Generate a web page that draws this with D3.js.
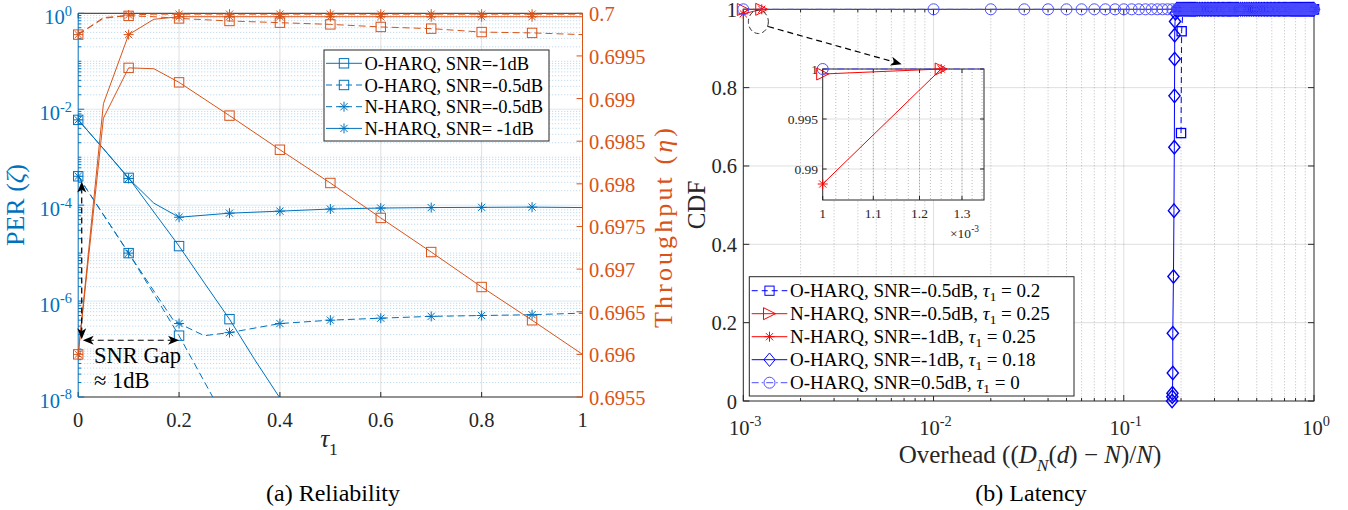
<!DOCTYPE html>
<html><head><meta charset="utf-8">
<script src="https://cdn.jsdelivr.net/npm/d3@7"></script>
<style>body{margin:0;background:#fff}svg{display:block}</style>
</head><body><svg id="c" width="1348" height="510" font-family="Liberation Serif, Times New Roman, serif"></svg>
<script>
// ---------------- DATA ----------------
// (a) Reliability
const tauTicks = [0, 0.2, 0.4, 0.6, 0.8, 1];
const perTickExps = [0, -2, -4, -6, -8];
const thrTicks = [0.7, 0.6995, 0.699, 0.6985, 0.698, 0.6975, 0.697, 0.6965, 0.696, 0.6955];
const markerTau = [0, 0.1, 0.2, 0.3, 0.4, 0.5, 0.6, 0.7, 0.8, 0.9];

const tauOH1 = [0, 0.05, 0.1, 0.15, 0.2, 0.25, 0.3, 0.35, 0.4];
const perOH1 = [6e-3, 1.5e-3, 3.7e-4, 7.2e-5, 1.4e-5, 2.4e-6, 4.2e-7, 6.0e-8, 9.5e-9];
const tauOH05 = [0, 0.05, 0.1, 0.15, 0.2, 0.25, 0.3];
const perOH05 = [4e-4, 6.3e-5, 1e-5, 1.4e-6, 1.9e-7, 2.1e-8, 2.3e-9];
const tauNH05 = [0, 0.05, 0.1, 0.19, 0.2, 0.25, 0.3, 0.4, 0.5, 0.6, 0.7, 0.8, 0.9, 1];
const perNH05 = [4e-4, 6.3e-5, 1e-5, 3.8e-7, 3.4e-7, 1.9e-7, 2.2e-7, 3.4e-7, 4.0e-7, 4.4e-7, 4.8e-7, 5.0e-7, 5.2e-7, 5.6e-7];
const tauNH1 = [0, 0.05, 0.1, 0.15, 0.2, 0.3, 0.4, 0.5, 0.6, 0.7, 0.8, 0.9, 1];
const perNH1 = [6e-3, 1.5e-3, 3.6e-4, 1.1e-4, 5.6e-5, 6.8e-5, 7.5e-5, 8.3e-5, 8.7e-5, 8.9e-5, 9.0e-5, 9.1e-5, 8.9e-5];

const tauThr = [0, 0.05, 0.1, 0.15, 0.2, 0.3, 0.4, 0.5, 0.6, 0.7, 0.8, 0.9, 1];
const thrOH1 = [0.69600, 0.69877, 0.69936, 0.69935, 0.69919, 0.69880, 0.69840, 0.69801, 0.69760, 0.69720, 0.69679, 0.69640, 0.69600];
const thrOH05 = [0.69975, 0.69995, 0.69997, 0.69996, 0.69994, 0.69991, 0.69989, 0.69987, 0.69984, 0.69982, 0.69978, 0.69977, 0.69975];
const thrNH05 = [0.69975, 0.69994, 0.69998, 0.69999, 0.69999, 0.69999, 0.69999, 0.69999, 0.69999, 0.69999, 0.69999, 0.69999, 0.69999];
const thrNH1 = [0.69600, 0.69894, 0.69975, 0.69993, 0.69996, 0.69996, 0.69996, 0.69996, 0.69996, 0.69996, 0.69996, 0.69996, 0.69996];

const legendA = ["O-HARQ, SNR=-1dB", "O-HARQ, SNR=-0.5dB", "N-HARQ, SNR=-0.5dB", "N-HARQ, SNR= -1dB"];

// (b) Latency
const ovhTickExps = [-3, -2, -1, 0];
const cdfTicks = [0, 0.2, 0.4, 0.6, 0.8, 1];
const sqHeadX = [0.2, 0.2015, 0.205];
const sqHeadCdf = [0.684, 0.944, 1];
const triX = [1e-3, 1.25e-3];
const triCdf = [0.9995, 1];
const starX = [1e-3, 1.25e-3];
const starCdf = [0.9885, 1];
const dmHeadX = [0.1795, 0.1799, 0.1803, 0.181, 0.181, 0.1825, 0.1836, 0.1844, 0.1848, 0.1852, 0.1852, 0.186, 0.187];
const dmHeadCdf = [0, 0.011, 0.0197, 0.0715, 0.173, 0.318, 0.486, 0.648, 0.779, 0.873, 0.934, 0.969, 0.99];
const circHeadX = [0.001, 0.01, 0.02, 0.03, 0.04, 0.05, 0.06, 0.07, 0.08, 0.09, 0.1, 0.11, 0.12, 0.13, 0.14, 0.15, 0.16, 0.17, 0.18];
const tailX = [0.19,0.1925,0.195,0.1975,0.2,0.2025,0.205,0.2075,0.21,0.2125,0.215,0.2175,0.22,0.2225,0.225,0.2275,0.23,0.2325,0.235,0.2375,0.24,0.245,0.25,0.255,0.26,0.265,0.27,0.275,0.28,0.285,0.29,0.295,0.3,0.305,0.31,0.315,0.32,0.325,0.33,0.335,0.34,0.345,0.35,0.355,0.36,0.365,0.37,0.375,0.38,0.385,0.39,0.395,0.4,0.41,0.42,0.43,0.44,0.45,0.46,0.47,0.48,0.49,0.5,0.51,0.52,0.53,0.54,0.55,0.56,0.57,0.58,0.59,0.6,0.61,0.62,0.63,0.64,0.65,0.66,0.67,0.68,0.69,0.7,0.71,0.72,0.73,0.74,0.75,0.76,0.77,0.78,0.79,0.8,0.81,0.82,0.83,0.84,0.85,0.86,0.87,0.88,0.89,0.9,0.91,0.92,0.93,0.94,0.95,0.96,0.97,0.98,0.99,1];
const insetXTicks = [1.0e-3, 1.1e-3, 1.2e-3, 1.3e-3];
const insetXLabels = ["1", "1.1", "1.2", "1.3"];
const insetYTicks = [0.99, 0.995, 1];
const insetYLabels = ["0.99", "0.995", "1"];

// ---------------- DRAW ----------------
const FF = 'Liberation Serif, Times New Roman, serif';
const svg = d3.select('#c');
const BLUE = '#0072BD', ORANGE = '#D95319', AX = '#262626', RB = '#0000ff', RR = '#ff0000', CB = '#4d4dff';
svg.append('rect').attr('width', 1348).attr('height', 510).attr('fill', '#fff');

function rich(sel, parts, fs, subK) {
  let cur = 0;
  parts.forEach(p => {
    const t = sel.append('tspan').text(p.t);
    let sh = 0;
    if (p.sub) sh = fs * (subK || 0.3);
    if (p.sup) sh = -fs * 0.42;
    if (p.sub || p.sup) t.attr('font-size', fs * 0.7);
    if (p.i) t.attr('font-style', 'italic');
    if (sh !== cur) t.attr('dy', sh - cur);
    cur = sh;
  });
  return sel;
}
function txt(g, x, y, parts, fs, anchor, color, extra, subK) {
  const t = g.append('text').attr('x', x).attr('y', y).attr('font-size', fs).attr('font-family', FF)
    .attr('text-anchor', anchor || 'start').attr('fill', color || '#000');
  if (extra) t.attr('transform', extra);
  if (typeof parts === 'string') t.text(parts); else rich(t, parts, fs, subK);
  return t;
}
function marker(g, type, x, y, color, s, sw) {
  let el;
  if (type === 'square') el = g.append('rect').attr('x', x - s).attr('y', y - s).attr('width', 2 * s).attr('height', 2 * s);
  else if (type === 'circle') el = g.append('circle').attr('cx', x).attr('cy', y).attr('r', s);
  else if (type === 'star') { const d = s * 0.72; el = g.append('path').attr('d', `M${x - s},${y}H${x + s}M${x},${y - s}V${y + s}M${x - d},${y - d}L${x + d},${y + d}M${x - d},${y + d}L${x + d},${y - d}`); }
  else if (type === 'diamond') el = g.append('path').attr('d', `M${x},${y - s * 1.2}L${x + s},${y}L${x},${y + s * 1.2}L${x - s},${y}Z`);
  else if (type === 'triR') el = g.append('path').attr('d', `M${x + s},${y}L${x - s},${y - s}L${x - s},${y + s}Z`);
  el.attr('fill', 'none').attr('stroke', color).attr('stroke-width', sw || 1);
}
function arrowHead(g, tx, ty, ang, color) {
  const L = 11, Wd = 4.5, N = 8;
  const ux = Math.cos(ang), uy = Math.sin(ang), px = -uy, py = ux;
  const bx = tx - ux * L, by = ty - uy * L, nx = tx - ux * N, ny = ty - uy * N;
  g.append('path').attr('d', `M${tx},${ty}L${bx + px * Wd},${by + py * Wd}L${nx},${ny}L${bx - px * Wd},${by - py * Wd}Z`).attr('fill', color);
}
const minorLog = (e0, e1) => { const a = []; for (let e = e0; e < e1; e++) for (let k = 2; k <= 9; k++) a.push(k * Math.pow(10, e)); return a; };

// ====== Panel (a) ======
const LA = { x0: 78.2, x1: 582.5, y0: 13.3, y1: 397 };
const xL = d3.scaleLinear().domain([0, 1]).range([LA.x0, LA.x1]);
const yPER = d3.scaleLog().domain([1e-8, 1]).range([LA.y1, LA.y0]);
const yTHR = d3.scaleLinear().domain([0.6955, 0.7]).range([LA.y1, LA.y0]);
const gA = svg.append('g');
svg.append('clipPath').attr('id', 'clipA').append('rect').attr('x', LA.x0).attr('y', LA.y0).attr('width', LA.x1 - LA.x0).attr('height', LA.y1 - LA.y0);

const gridA = gA.append('g');
tauTicks.slice(1, -1).forEach(t => gridA.append('line').attr('x1', xL(t)).attr('x2', xL(t)).attr('y1', LA.y0).attr('y2', LA.y1).attr('stroke', AX).attr('stroke-opacity', 0.15));
const perMinor = minorLog(-8, 0).concat([1e-1, 1e-3, 1e-5, 1e-7]);
perMinor.forEach(v => gridA.append('line').attr('x1', LA.x0).attr('x2', LA.x1).attr('y1', yPER(v)).attr('y2', yPER(v)).attr('stroke', BLUE).attr('stroke-opacity', 0.3).attr('stroke-dasharray', '1,2'));
perTickExps.slice(1, -1).forEach(e => gridA.append('line').attr('x1', LA.x0).attr('x2', LA.x1).attr('y1', yPER(Math.pow(10, e))).attr('y2', yPER(Math.pow(10, e))).attr('stroke', BLUE).attr('stroke-opacity', 0.15));

gA.append('line').attr('x1', LA.x0).attr('x2', LA.x1).attr('y1', LA.y1).attr('y2', LA.y1).attr('stroke', AX);
gA.append('line').attr('x1', LA.x0).attr('x2', LA.x1).attr('y1', LA.y0).attr('y2', LA.y0).attr('stroke', AX);
tauTicks.forEach(t => {
  gA.append('line').attr('x1', xL(t)).attr('x2', xL(t)).attr('y1', LA.y1).attr('y2', LA.y1 - 5).attr('stroke', AX);
  gA.append('line').attr('x1', xL(t)).attr('x2', xL(t)).attr('y1', LA.y0).attr('y2', LA.y0 + 5).attr('stroke', AX);
  txt(gA, xL(t), 427, String(t), 20.5, 'middle', AX);
});
gA.append('line').attr('x1', LA.x0).attr('x2', LA.x0).attr('y1', LA.y0).attr('y2', LA.y1).attr('stroke', BLUE);
gA.append('line').attr('x1', LA.x1).attr('x2', LA.x1).attr('y1', LA.y0).attr('y2', LA.y1).attr('stroke', ORANGE);
perMinor.forEach(v => gA.append('line').attr('x1', LA.x0).attr('x2', LA.x0 + 3).attr('y1', yPER(v)).attr('y2', yPER(v)).attr('stroke', BLUE));
perTickExps.forEach(e => {
  const y = yPER(Math.pow(10, e));
  gA.append('line').attr('x1', LA.x0).attr('x2', LA.x0 + 6).attr('y1', y).attr('y2', y).attr('stroke', BLUE);
  txt(gA, 72, y + 11, [{ t: '10' }, { t: String(e), sup: true }], 20.5, 'end', BLUE);
});
thrTicks.forEach(v => {
  const y = yTHR(v);
  gA.append('line').attr('x1', LA.x1 - 6).attr('x2', LA.x1).attr('y1', y).attr('y2', y).attr('stroke', ORANGE);
  txt(gA, 589, y + 8, String(v), 20.5, 'start', ORANGE);
});
txt(gA, 329, 447, [{ t: 'τ', i: true }, { t: '1', sub: true }], 25, 'middle', AX);
txt(gA, 0, 0, [{ t: 'PER (' }, { t: 'ζ', i: true }, { t: ')' }], 26, 'middle', BLUE, 'translate(24,205) rotate(-90)');
txt(gA, 0, 0, [{ t: 'Throughput (' }, { t: 'η', i: true }, { t: ')' }], 26, 'middle', ORANGE, 'translate(672,228) rotate(-90)')
  .attr('textLength', 200).attr('lengthAdjust', 'spacing');
txt(gA, 333, 501, '(a) Reliability', 24, 'middle', '#000');

const isMarkTau = t => markerTau.some(m => Math.abs(m - t) < 1e-9);
function drawSeriesA(tau, vals, yS, color, dash, mtype) {
  const pts = tau.map((t, i) => [xL(t), yS(vals[i])]);
  gA.append('path').attr('d', d3.line()(pts)).attr('fill', 'none').attr('stroke', color).attr('stroke-width', 1)
    .attr('stroke-dasharray', dash).attr('clip-path', 'url(#clipA)');
  tau.forEach((t, i) => {
    if (!isMarkTau(t)) return;
    const [x, y] = pts[i];
    if (y > LA.y1 + 0.5 || y < LA.y0 - 0.5) return;
    marker(gA, mtype, x, y, color, mtype === 'star' ? 5 : 4.7, 1);
  });
}
drawSeriesA(tauOH1, perOH1, yPER, BLUE, null, 'square');
drawSeriesA(tauOH05, perOH05, yPER, BLUE, '7,4', 'square');
drawSeriesA(tauNH05, perNH05, yPER, BLUE, '7,4', 'star');
drawSeriesA(tauNH1, perNH1, yPER, BLUE, null, 'star');
drawSeriesA(tauThr, thrOH1, yTHR, ORANGE, null, 'square');
drawSeriesA(tauThr, thrOH05, yTHR, ORANGE, '7,4', 'square');
drawSeriesA(tauThr, thrNH05, yTHR, ORANGE, '7,4', 'star');
drawSeriesA(tauThr, thrNH1, yTHR, ORANGE, null, 'star');

// SNR gap annotation
const ann = gA.append('g');
const axv = xL(0.007), ayTop = yPER(3.1e-4), ayBot = yPER(1.6e-7), axR = xL(0.2);
ann.append('line').attr('x1', axv).attr('x2', axv).attr('y1', ayTop + 6).attr('y2', ayBot - 6).attr('stroke', '#000').attr('stroke-width', 1.2).attr('stroke-dasharray', '6,4');
arrowHead(ann, axv, ayTop, -Math.PI / 2, '#000');
arrowHead(ann, axv, ayBot, Math.PI / 2, '#000');
ann.append('line').attr('x1', axv + 6).attr('x2', axR - 6).attr('y1', ayBot + 1).attr('y2', ayBot + 1).attr('stroke', '#000').attr('stroke-width', 1.2).attr('stroke-dasharray', '6,4');
arrowHead(ann, axv + 1, ayBot + 1, Math.PI, '#000');
arrowHead(ann, axR, ayBot + 1, 0, '#000');
txt(ann, 94, 363, 'SNR Gap', 22.5, 'start', '#000');
txt(ann, 94, 388, '≈ 1dB', 22.5, 'start', '#000');

// legend (a)
const lgA = gA.append('g');
lgA.append('rect').attr('x', 324).attr('y', 50).attr('width', 225).attr('height', 91).attr('fill', '#fff').attr('stroke', AX).attr('stroke-width', 1);
const lgStyles = [[null, 'square'], ['6,4', 'square'], ['6,4', 'star'], [null, 'star']];
legendA.forEach((s, i) => {
  const y = 63.3 + i * 21.7;
  lgA.append('line').attr('x1', 326).attr('x2', 362).attr('y1', y).attr('y2', y).attr('stroke', BLUE).attr('stroke-dasharray', lgStyles[i][0]);
  marker(lgA, lgStyles[i][1], 344, y, BLUE, lgStyles[i][1] === 'star' ? 5 : 4.7, 1);
  txt(lgA, 364.5, y + 6.5, s, 18.5, 'start', '#000');
});

// ====== Panel (b) ======
const RA = { x0: 743.3, x1: 1314, y0: 9.3, y1: 401 };
const xR = d3.scaleLog().domain([1e-3, 1]).range([RA.x0, RA.x1]);
const yR = d3.scaleLinear().domain([0, 1]).range([RA.y1, RA.y0]);
const gB = svg.append('g');
const ovhMinor = minorLog(-3, 0);
ovhMinor.forEach(v => gB.append('line').attr('x1', xR(v)).attr('x2', xR(v)).attr('y1', RA.y0).attr('y2', RA.y1).attr('stroke', AX).attr('stroke-opacity', 0.3).attr('stroke-dasharray', '1,2'));
[1e-2, 1e-1].forEach(v => gB.append('line').attr('x1', xR(v)).attr('x2', xR(v)).attr('y1', RA.y0).attr('y2', RA.y1).attr('stroke', AX).attr('stroke-opacity', 0.15));
cdfTicks.slice(1, -1).forEach(v => gB.append('line').attr('x1', RA.x0).attr('x2', RA.x1).attr('y1', yR(v)).attr('y2', yR(v)).attr('stroke', AX).attr('stroke-opacity', 0.15));
gB.append('rect').attr('x', RA.x0).attr('y', RA.y0).attr('width', RA.x1 - RA.x0).attr('height', RA.y1 - RA.y0).attr('fill', 'none').attr('stroke', AX);
ovhMinor.forEach(v => {
  gB.append('line').attr('x1', xR(v)).attr('x2', xR(v)).attr('y1', RA.y1).attr('y2', RA.y1 - 3).attr('stroke', AX);
  gB.append('line').attr('x1', xR(v)).attr('x2', xR(v)).attr('y1', RA.y0).attr('y2', RA.y0 + 3).attr('stroke', AX);
});
ovhTickExps.forEach(e => {
  const x = xR(Math.pow(10, e));
  gB.append('line').attr('x1', x).attr('x2', x).attr('y1', RA.y1).attr('y2', RA.y1 - 6).attr('stroke', AX);
  gB.append('line').attr('x1', x).attr('x2', x).attr('y1', RA.y0).attr('y2', RA.y0 + 6).attr('stroke', AX);
  txt(gB, x + 2, 435, [{ t: '10' }, { t: String(e), sup: true }], 20.5, 'middle', AX);
});
cdfTicks.forEach(v => {
  const y = yR(v);
  gB.append('line').attr('x1', RA.x0).attr('x2', RA.x0 + 6).attr('y1', y).attr('y2', y).attr('stroke', AX);
  gB.append('line').attr('x1', RA.x1 - 6).attr('x2', RA.x1).attr('y1', y).attr('y2', y).attr('stroke', AX);
  txt(gB, 737, y + 7.5, String(v), 20.5, 'end', AX);
});
txt(gB, 0, 0, 'CDF', 25, 'middle', AX, 'translate(705,205) rotate(-90)');
txt(gB, 1030, 463, [{ t: 'Overhead ((' }, { t: 'D', i: true }, { t: 'N', sub: true, i: true }, { t: '(' }, { t: 'd', i: true }, { t: ') − ' }, { t: 'N', i: true }, { t: ')/' }, { t: 'N', i: true }, { t: ')' }], 25, 'middle', AX);
txt(gB, 1031, 501, '(b) Latency', 24, 'middle', '#000');

function drawSeriesB(g, xs, ys, xS, yS, color, dash, mtype, ms, sw) {
  const pts = xs.map((x, i) => [xS(x), yS(ys[i])]);
  g.append('path').attr('d', d3.line()(pts)).attr('fill', 'none').attr('stroke', color).attr('stroke-width', 1).attr('stroke-dasharray', dash);
  pts.forEach(p => marker(g, mtype, p[0], p[1], color, ms, sw || 1));
}
const sqX = sqHeadX.concat(tailX.filter(x => x > 0.205));
const sqY = sqHeadCdf.concat(tailX.filter(x => x > 0.205).map(() => 1));
const dmX = dmHeadX.concat(tailX);
const dmY = dmHeadCdf.concat(tailX.map(() => 1));
const ciX = circHeadX.concat(tailX);
const ciY = ciX.map(() => 1);
const gS = gB.append('g');
drawSeriesB(gS, sqX, sqY, xR, yR, RB, '6,4', 'square', 4.6, 1.3);
drawSeriesB(gS, triX, triCdf, xR, yR, RR, null, 'triR', 6, 1);
drawSeriesB(gS, starX, starCdf, xR, yR, RR, null, 'star', 5, 1);
drawSeriesB(gS, dmX, dmY, xR, yR, RB, null, 'diamond', 5.6, 1.4);
drawSeriesB(gS, ciX, ciY, xR, yR, CB, '7,3,1.5,3', 'circle', 5.5, 1);

// zoom annotation
const gZ = gB.append('g');
gZ.append('ellipse').attr('cx', xR(1.2e-3)).attr('cy', yR(0.968)).attr('rx', 10).attr('ry', 11.7).attr('fill', 'none').attr('stroke', '#333').attr('stroke-dasharray', '5,3');
const a0 = [xR(1.35e-3), yR(0.956)], a1 = [xR(6.8e-3), yR(0.860)];
gZ.append('line').attr('x1', a0[0]).attr('y1', a0[1]).attr('x2', a1[0] - 8).attr('y2', a1[1] - 2.3).attr('stroke', '#000').attr('stroke-dasharray', '6,4').attr('stroke-width', 1.2);
arrowHead(gZ, a1[0], a1[1], Math.atan2(a1[1] - a0[1], a1[0] - a0[0]), '#000');

// inset
const IA = { x0: 822.7, x1: 984, y0: 69, y1: 200 };
const xI = d3.scaleLog().domain([1e-3, 1.355e-3]).range([IA.x0, IA.x1]);
const yI = d3.scaleLinear().domain([0.9869, 1]).range([IA.y1, IA.y0]);
const gI = gB.append('g');
gI.append('rect').attr('x', IA.x0).attr('y', IA.y0).attr('width', IA.x1 - IA.x0).attr('height', IA.y1 - IA.y0).attr('fill', '#fff');
d3.range(1.025e-3, 1.355e-3, 0.025e-3).forEach(v => gI.append('line').attr('x1', xI(v)).attr('x2', xI(v)).attr('y1', IA.y0).attr('y2', IA.y1).attr('stroke', AX).attr('stroke-opacity', 0.3).attr('stroke-dasharray', '1,2'));
insetXTicks.slice(1).forEach(v => gI.append('line').attr('x1', xI(v)).attr('x2', xI(v)).attr('y1', IA.y0).attr('y2', IA.y1).attr('stroke', AX).attr('stroke-opacity', 0.15));
insetYTicks.slice(0, -1).forEach(v => gI.append('line').attr('x1', IA.x0).attr('x2', IA.x1).attr('y1', yI(v)).attr('y2', yI(v)).attr('stroke', AX).attr('stroke-opacity', 0.15));
gI.append('rect').attr('x', IA.x0).attr('y', IA.y0).attr('width', IA.x1 - IA.x0).attr('height', IA.y1 - IA.y0).attr('fill', 'none').attr('stroke', AX);
insetXTicks.forEach((v, i) => {
  const x = xI(v);
  gI.append('line').attr('x1', x).attr('x2', x).attr('y1', IA.y1).attr('y2', IA.y1 - 4).attr('stroke', AX);
  gI.append('line').attr('x1', x).attr('x2', x).attr('y1', IA.y0).attr('y2', IA.y0 + 4).attr('stroke', AX);
  txt(gI, x, 218, insetXLabels[i], 13.5, 'middle', AX);
});
insetYTicks.forEach((v, i) => {
  const y = yI(v);
  gI.append('line').attr('x1', IA.x0).attr('x2', IA.x0 + 4).attr('y1', y).attr('y2', y).attr('stroke', AX);
  gI.append('line').attr('x1', IA.x1 - 4).attr('x2', IA.x1).attr('y1', y).attr('y2', y).attr('stroke', AX);
  txt(gI, 818, y + 5, insetYLabels[i], 13.5, 'end', AX);
});
txt(gI, 950, 238, [{ t: '×10' }, { t: '-3', sup: true }], 13.5, 'start', AX);
gI.append('path').attr('d', d3.line()([[IA.x0, yI(1)], [IA.x1, yI(1)]])).attr('stroke', CB).attr('stroke-dasharray', '7,3,1.5,3').attr('fill', 'none');
drawSeriesB(gI, triX, triCdf, xI, yI, RR, null, 'triR', 6, 1);
drawSeriesB(gI, starX, starCdf, xI, yI, RR, null, 'star', 5, 1);
marker(gI, 'circle', xI(1e-3), yI(1), CB, 5.5, 1);

// legend (b)
const lgB = gB.append('g');
lgB.append('rect').attr('x', 749.3).attr('y', 276.7).attr('width', 324.7).attr('height', 119.3).attr('fill', '#fff').attr('stroke', AX);
const legB = [
  { c: RB, d: '6,4', m: 'square', s: 4.6, txt: [{ t: 'O-HARQ, SNR=-0.5dB, ' }, { t: 'τ', i: true }, { t: '1', sub: true }, { t: ' = 0.2' }] },
  { c: RR, d: null, m: 'triR', s: 6, txt: [{ t: 'N-HARQ, SNR=-0.5dB, ' }, { t: 'τ', i: true }, { t: '1', sub: true }, { t: ' = 0.25' }] },
  { c: RR, d: null, m: 'star', s: 5, txt: [{ t: 'N-HARQ, SNR=-1dB, ' }, { t: 'τ', i: true }, { t: '1', sub: true }, { t: ' = 0.25' }] },
  { c: RB, d: null, m: 'diamond', s: 5.6, txt: [{ t: 'O-HARQ, SNR=-1dB, ' }, { t: 'τ', i: true }, { t: '1', sub: true }, { t: ' = 0.18' }] },
  { c: CB, d: '7,3,1.5,3', m: 'circle', s: 5.5, txt: [{ t: 'O-HARQ, SNR=0.5dB, ' }, { t: 'τ', i: true }, { t: '1', sub: true }, { t: ' = 0' }] }
];
legB.forEach((L, i) => {
  const y = 290.7 + i * 23;
  lgB.append('line').attr('x1', 751.7).attr('x2', 787.3).attr('y1', y).attr('y2', y).attr('stroke', L.c).attr('stroke-dasharray', L.d);
  marker(lgB, L.m, 769.5, y, L.c, L.s, 1);
  txt(lgB, 790, y + 6.5, L.txt, 19, 'start', '#000', null, 0.2);
});
</script></body></html>
